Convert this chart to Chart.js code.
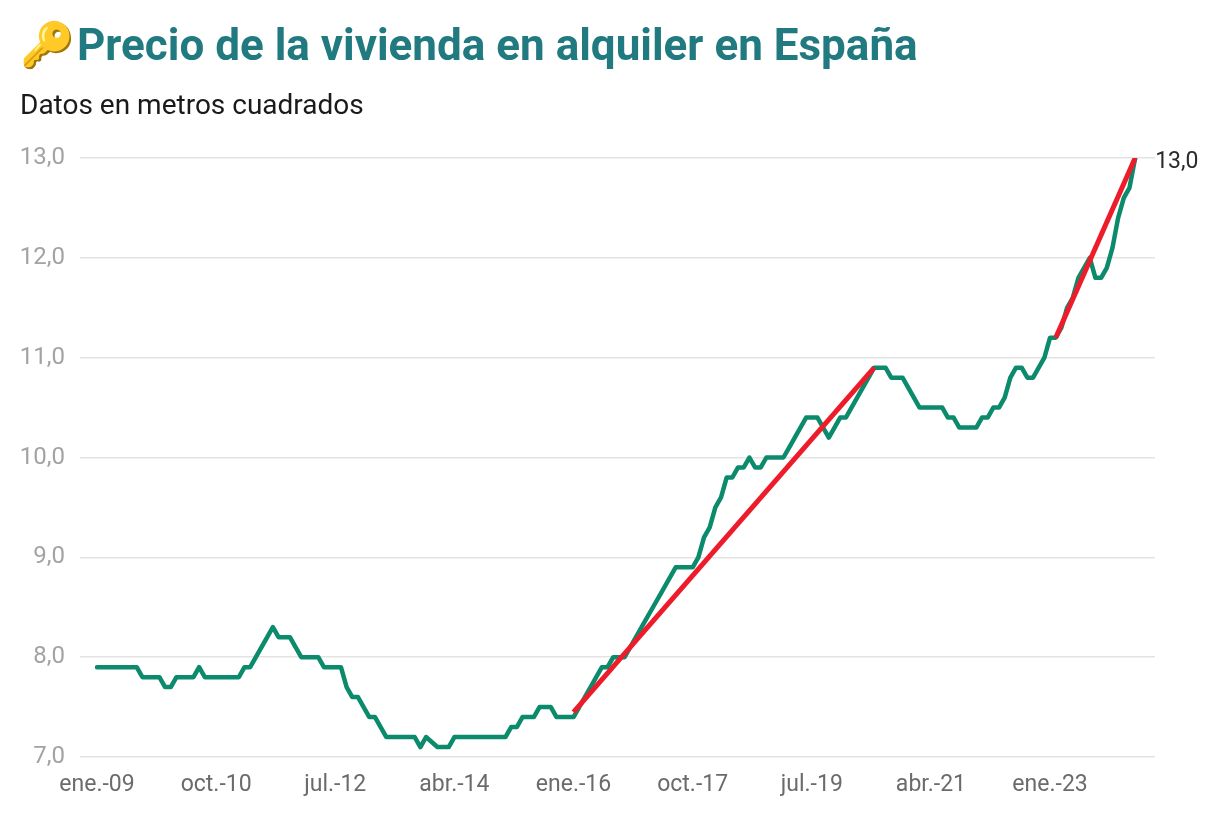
<!DOCTYPE html>
<html>
<head>
<meta charset="utf-8">
<script src="https://cdn.jsdelivr.net/npm/chart.js@4.4.0/dist/chart.umd.min.js"></script>
<style>
html,body{margin:0;padding:0;background:#fff;width:1229px;height:826px;overflow:hidden;font-family:Roboto,"Noto Sans",sans-serif}
#wrap{position:absolute;left:0;top:0;width:1229px;height:826px}
#title{position:absolute;left:20px;top:23px;font-size:44px;line-height:44px;font-weight:700;color:#217a80;white-space:nowrap}
#title .ico{display:inline-block;width:57px}
#sub{position:absolute;left:20px;top:91px;font-size:28px;line-height:28px;color:#1a1a1a;white-space:nowrap}
</style>
</head>
<body>
<div id="wrap"><canvas id="c" width="1229" height="826"></canvas></div>
<div id="title"><span class="ico">🔑</span>Precio de la vivienda en alquiler en España</div>
<div id="sub">Datos en metros cuadrados</div>
<script>
// Month names and start year used to build the category labels
const monthNames = ['ene.','feb.','mar.','abr.','may.','jun.','jul.','ago.','sep.','oct.','nov.','dic.'];
const startYear = 2009;

// Monthly rental price (€/m²), ene.-09 ... abr.-24
const precio = [
  7.9,7.9,7.9,7.9,7.9,7.9,7.9,7.9,7.8,7.8,7.8,7.8,
  7.7,7.7,7.8,7.8,7.8,7.8,7.9,7.8,7.8,7.8,7.8,7.8,
  7.8,7.8,7.9,7.9,8.0,8.1,8.2,8.3,8.2,8.2,8.2,8.1,
  8.0,8.0,8.0,8.0,7.9,7.9,7.9,7.9,7.7,7.6,7.6,7.5,
  7.4,7.4,7.3,7.2,7.2,7.2,7.2,7.2,7.2,7.1,7.2,7.15,
  7.1,7.1,7.1,7.2,7.2,7.2,7.2,7.2,7.2,7.2,7.2,7.2,
  7.2,7.3,7.3,7.4,7.4,7.4,7.5,7.5,7.5,7.4,7.4,7.4,
  7.4,7.5,7.6,7.7,7.8,7.9,7.9,8.0,8.0,8.0,8.1,8.2,
  8.3,8.4,8.5,8.6,8.7,8.8,8.9,8.9,8.9,8.9,9.0,9.2,
  9.3,9.5,9.6,9.8,9.8,9.9,9.9,10.0,9.9,9.9,10.0,10.0,
  10.0,10.0,10.1,10.2,10.3,10.4,10.4,10.4,10.3,10.2,10.3,10.4,
  10.4,10.5,10.6,10.7,10.8,10.9,10.9,10.9,10.8,10.8,10.8,10.7,
  10.6,10.5,10.5,10.5,10.5,10.5,10.4,10.4,10.3,10.3,10.3,10.3,
  10.4,10.4,10.5,10.5,10.6,10.8,10.9,10.9,10.8,10.8,10.9,11.0,
  11.2,11.2,11.3,11.5,11.6,11.8,11.9,12.0,11.8,11.8,11.9,12.1,
  12.4,12.6,12.7,13.0
];

// Trend lines (red): month index and value at each end
const trend1Idx = [84, 137];
const trend1Val = [7.45, 10.9];
const trend2Idx = [169, 183];
const trend2Val = [11.2, 13.0];

// Axis ticks
const xTickStep = 21;
const yTicks = [7, 8, 9, 10, 11, 12, 13];

const categories = precio.map((_, i) => monthNames[i % 12] + '-' + String((startYear + Math.floor(i / 12)) % 100).padStart(2, '0'));
const xTickIdx = categories.map((_, i) => i).filter(i => i % xTickStep === 0);

const fmt = v => v.toFixed(1).replace('.', ',');

const lastLabel = {
  id: 'lastLabel',
  afterDatasetsDraw(chart) {
    const meta = chart.getDatasetMeta(2);
    const pt = meta.data[meta.data.length - 1];
    const ctx = chart.ctx;
    ctx.save();
    ctx.font = '23px Roboto';
    ctx.fillStyle = '#2b2b2b';
    ctx.textAlign = 'left';
    ctx.textBaseline = 'middle';
    ctx.fillText(fmt(precio[precio.length - 1]), pt.x + 20, pt.y + 4);
    ctx.restore();
  }
};

new Chart(document.getElementById('c'), {
  type: 'line',
  data: {
    datasets: [
      {
        data: trend1Idx.map((x, i) => ({x, y: trend1Val[i]})),
        borderColor: '#ee1c2a', borderWidth: 5, pointRadius: 0, tension: 0, order: 0
      },
      {
        data: trend2Idx.map((x, i) => ({x, y: trend2Val[i]})),
        borderColor: '#ee1c2a', borderWidth: 5, pointRadius: 0, tension: 0, order: 0
      },
      {
        data: precio.map((y, x) => ({x, y})),
        borderColor: '#0b8a6c', borderWidth: 4.5, pointRadius: 0, tension: 0, order: 1,
        borderJoinStyle: 'round', borderCapStyle: 'round'
      }
    ]
  },
  plugins: [lastLabel],
  options: {
    responsive: false,
    animation: false,
    devicePixelRatio: 1,
    layout: { padding: { top: 158, left: 0, right: 74, bottom: 19 } },
    plugins: { legend: { display: false }, tooltip: { enabled: false } },
    scales: {
      x: {
        type: 'linear',
        min: -3,
        max: 186.5,
        grid: { display: false, drawTicks: false },
        border: { display: false },
        afterFit(s) { s.height = 50; },
        afterBuildTicks(s) { s.ticks = xTickIdx.map(v => ({value: v})); },
        ticks: {
          autoSkip: false,
          maxRotation: 0,
          padding: 14,
          color: '#6b6b6b',
          font: { family: 'Roboto', size: 23 },
          callback: v => categories[v] || ''
        }
      },
      y: {
        min: 7,
        max: 13,
        grid: { color: '#e3e3e3', lineWidth: 1.5, drawTicks: false },
        border: { display: false },
        afterFit(s) { s.width = 80; },
        afterBuildTicks(s) { s.ticks = yTicks.map(v => ({value: v})); },
        ticks: {
          padding: 15,
          color: '#a3a3a3',
          font: { family: 'Roboto', size: 24 },
          callback: v => fmt(v)
        }
      }
    }
  }
});
</script>
</body>
</html>
